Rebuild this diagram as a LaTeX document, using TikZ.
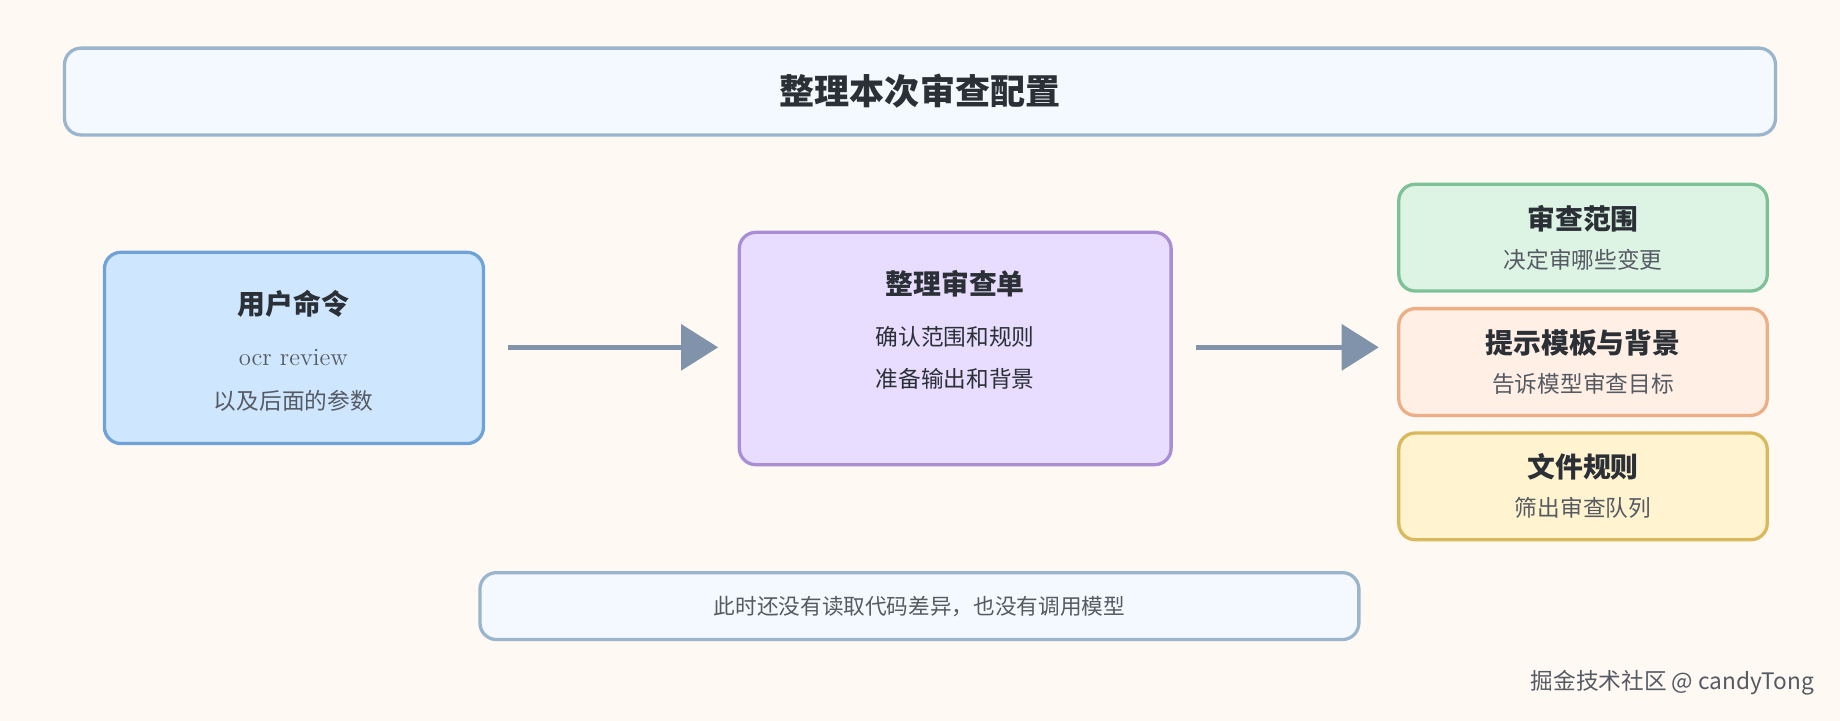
\documentclass[tikz,border=0pt]{standalone}
\usepackage{fontspec}
\newfontfamily\cjk{Noto Sans CJK SC}
\usetikzlibrary{arrows.meta}
\definecolor{bgc}{HTML}{FFF9F4}
\definecolor{titlef}{HTML}{F4F9FF}
\definecolor{titled}{HTML}{9BB5CC}
\definecolor{userf}{HTML}{CFE6FF}
\definecolor{userd}{HTML}{6FA3D8}
\definecolor{midf}{HTML}{E8DDFF}
\definecolor{midd}{HTML}{A98ED6}
\definecolor{grnf}{HTML}{DDF3E4}
\definecolor{grnd}{HTML}{7DC196}
\definecolor{orgf}{HTML}{FFEFE4}
\definecolor{orgd}{HTML}{EDAE85}
\definecolor{yelf}{HTML}{FFF4CF}
\definecolor{yeld}{HTML}{D9B95C}
\definecolor{arrc}{HTML}{8093AA}
\definecolor{txtc}{HTML}{2B2F36}
\definecolor{subc}{HTML}{555A63}
\begin{document}
\begin{tikzpicture}[
        x=0.02cm, y=-0.02cm,
        font=\cjk,
        text=txtc
    ]
    \tikzset{
        mybox/.style = {rectangle, rounded corners=8pt, line width=1.6pt, align=center, inner sep=0pt},
        myhead/.style = {font=\cjk\bfseries\fontsize{13.5}{16}\selectfont},
        mysub/.style = {font=\cjk\fontsize{11}{14}\selectfont, text=subc},
        myarrow/.style = {line width=2.6pt, arrc, -{Triangle[length=18pt,width=22pt]}},
    }
    \fill[bgc] (0,0) rectangle (1568,614);
    \useasboundingbox (0,0) rectangle (1568,614);
    %
    \node[mybox, draw=titled, fill=titlef, minimum width=1458*0.02cm, minimum height=74*0.02cm,
        font=\cjk\bfseries\fontsize{17}{20}\selectfont] (title) at (784,78) {整理本次审查配置};
    %
    \node[mybox, draw=userd, fill=userf, minimum width=323*0.02cm, minimum height=163*0.02cm] (user) at (250.5,296.5) {};
    \node[myhead] at (250,259) {用户命令};
    \node[font=\fontsize{12}{14}\selectfont, text=subc] at (250,305) {ocr review};
    \node[mysub] at (250,342) {以及后面的参数};
    %
    \node[mybox, draw=midd, fill=midf, minimum width=368*0.02cm, minimum height=198*0.02cm] (list) at (814,297) {};
    \node[myhead] at (814,242) {整理审查单};
    \node[mysub, text=txtc] at (814,287) {确认范围和规则};
    \node[mysub, text=txtc] at (814,323) {准备输出和背景};
    %
    \node[mybox, draw=grnd, fill=grnf, minimum width=314*0.02cm, minimum height=91*0.02cm] (scope) at (1349,202.5) {};
    \node[myhead] at (1349,186) {审查范围};
    \node[mysub] at (1349,221) {决定审哪些变更};
    \node[mybox, draw=orgd, fill=orgf, minimum width=314*0.02cm, minimum height=91*0.02cm] (prompt) at (1349,308.5) {};
    \node[myhead] at (1349,292) {提示模板与背景};
    \node[mysub] at (1349,327) {告诉模型审查目标};
    \node[mybox, draw=yeld, fill=yelf, minimum width=314*0.02cm, minimum height=91*0.02cm] (rules) at (1349,414.5) {};
    \node[myhead] at (1349,398) {文件规则};
    \node[mysub] at (1349,433) {筛出审查队列};
    %
    \coordinate (a1) at (433,296);
    \coordinate (a2) at (612,296);
    \coordinate (b1) at (1019,296);
    \coordinate (b2) at (1175,296);
    \draw[myarrow] (a1) -- (a2);
    \draw[myarrow] (b1) -- (b2);
    %
    \node[mybox, draw=titled, fill=titlef, minimum width=749*0.02cm, minimum height=57*0.02cm,
        mysub, font=\cjk\fontsize{10.5}{12}\selectfont] (note) at (783.5,516.5) {此时还没有读取代码差异，也没有调用模型};
    %
    \node[anchor=east, font=\cjk\fontsize{11}{13}\selectfont, text=subc] (mark) at (1552,582) {掘金技术社区 @ candyTong};
\end{tikzpicture}
\end{document}
